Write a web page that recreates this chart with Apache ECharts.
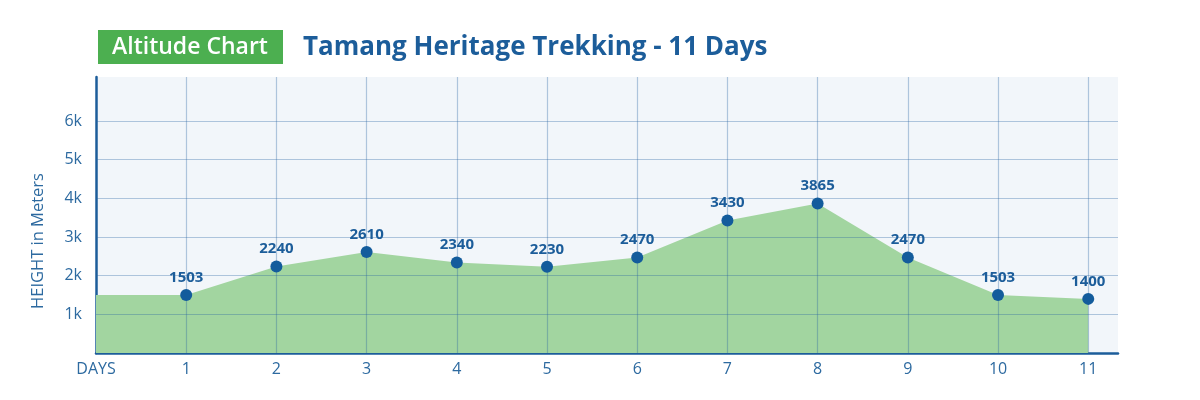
<!DOCTYPE html>
<html>
<head>
<meta charset="utf-8">
<script src="https://cdn.jsdelivr.net/npm/echarts@6/dist/echarts.min.js"></script>
<style>
  html, body { margin: 0; padding: 0; background: #fff; }
  #chart { width: 1200px; height: 400px; }
</style>
</head>
<body>
<div id="chart"></div>
<script>
// trek days and altitude (m) at each stop
var days = [1, 2, 3, 4, 5, 6, 7, 8, 9, 10, 11];
var altitudes = [1503, 2240, 2610, 2340, 2230, 2470, 3430, 3865, 2470, 1503, 1400];
var startAltitude = 1503; // level at the DAYS origin
var heightTicks = [1000, 2000, 3000, 4000, 5000, 6000];

var FONT = '"Open Sans", "Noto Sans", sans-serif';
var BLUE = '#1c5d9a';
var TEXT = '#2d6aa0';
var GRID = 'rgba(40, 100, 160, 0.34)';

var areaData = [[0, startAltitude]].concat(days.map(function (d, i) { return [d, altitudes[i]]; }));
var pointData = days.map(function (d, i) { return [d, altitudes[i]]; });

var gridMarks = days.map(function (d) { return { xAxis: d }; })
    .concat(heightTicks.map(function (h) { return { yAxis: h }; }));

var chart = echarts.init(document.getElementById('chart'));
chart.setOption({
    animation: false,
    textStyle: { fontFamily: FONT },
    grid: {
        left: 96, right: 82, top: 77, bottom: 47,
        show: true, backgroundColor: '#f2f6fa', borderWidth: 0, borderColor: 'transparent'
    },
    xAxis: {
        type: 'value',
        min: 0,
        max: 11.33,
        interval: 1,
        axisLine: { lineStyle: { color: BLUE, width: 2.5 } },
        axisTick: { show: false },
        splitLine: { show: false },
        axisLabel: {
            color: TEXT, fontSize: 16, margin: 8, fontFamily: FONT,
            formatter: function (v) {
                if (v === 0) return 'DAYS';
                return days.indexOf(v) >= 0 ? String(v) : '';
            }
        }
    },
    yAxis: {
        type: 'value',
        min: 0,
        max: 7140,
        interval: 1000,
        axisLine: { show: true, lineStyle: { color: BLUE, width: 2.5 } },
        axisTick: { show: false },
        splitLine: { show: false },
        axisLabel: {
            color: TEXT, fontSize: 16, margin: 14, fontFamily: FONT,
            formatter: function (v) {
                return heightTicks.indexOf(v) >= 0 ? (v / 1000) + 'k' : '';
            }
        }
    },
    graphic: [
        {
            type: 'rect',
            shape: { x: 98, y: 30, width: 185, height: 34 },
            style: { fill: '#4caf50' }
        },
        {
            type: 'text',
            x: 190, y: 47,
            style: {
                text: 'Altitude Chart', fill: '#fff', fontSize: 23, fontWeight: 600,
                fontFamily: FONT, align: 'center', verticalAlign: 'middle'
            }
        },
        {
            type: 'text',
            x: 303, y: 48,
            style: {
                text: 'Tamang Heritage Trekking - 11 Days', fill: BLUE, fontSize: 26,
                fontWeight: 'bold', fontFamily: FONT, verticalAlign: 'middle'
            }
        },
        {
            type: 'text',
            x: 38, y: 241,
            rotation: Math.PI / 2,
            style: {
                text: 'HEIGHT in Meters', fill: TEXT, fontSize: 16.5, fontFamily: FONT,
                align: 'center', verticalAlign: 'middle'
            }
        }
    ],
    series: [
        {
            type: 'line',
            data: areaData,
            showSymbol: false,
            silent: true,
            z: 1,
            lineStyle: { width: 0 },
            areaStyle: { color: '#a2d5a0', opacity: 1 },
            markLine: {
                silent: true,
                z: 2,
                symbol: 'none',
                label: { show: false },
                lineStyle: { color: GRID, type: 'solid', width: 1.2 },
                data: gridMarks
            }
        },
        {
            type: 'scatter',
            data: pointData,
            z: 3,
            symbolSize: 12,
            itemStyle: { color: '#135c9c', opacity: 1 },
            label: {
                show: true, position: 'top', distance: 4,
                color: BLUE, fontSize: 15, fontWeight: 'bold', fontFamily: FONT,
                formatter: function (p) { return p.value[1]; }
            }
        }
    ]
});
</script>
</body>
</html>
